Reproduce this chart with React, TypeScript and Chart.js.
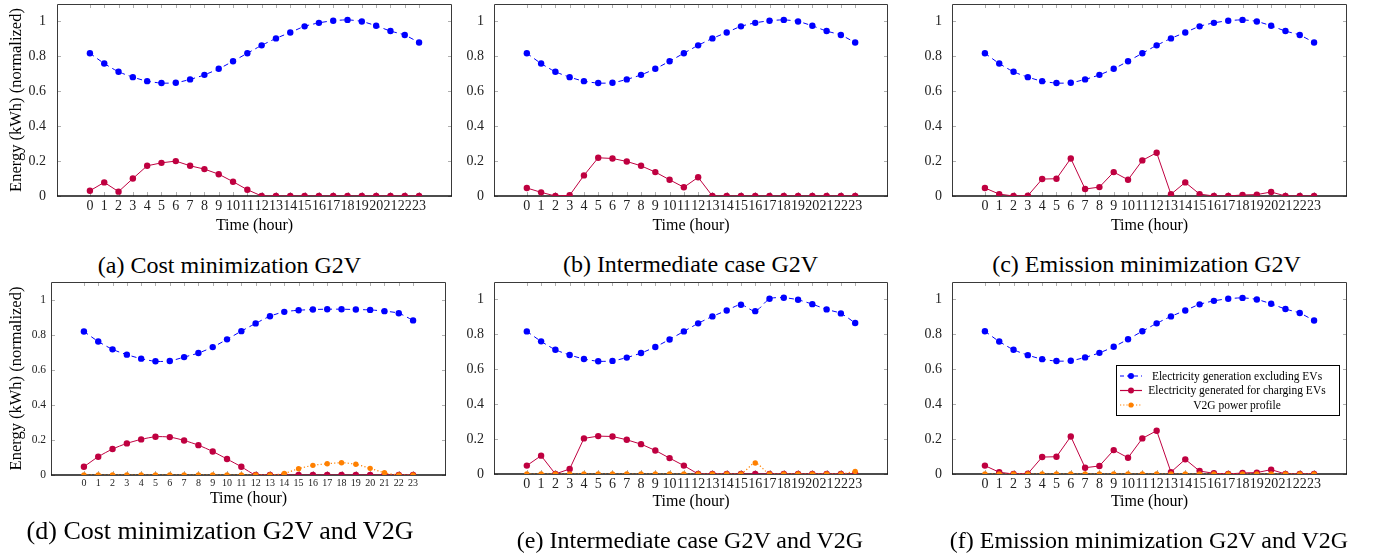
import React, { useEffect, useRef } from 'react';
import { Chart, registerables } from 'chart.js';

Chart.register(...registerables);

// ---------------- DATA ----------------
const hours = [0, 1, 2, 3, 4, 5, 6, 7, 8, 9, 10, 11, 12, 13, 14, 15, 16, 17, 18, 19, 20, 21, 22, 23];
const hourLabels = hours.map((h) => String(h));

const yTicks = [0, 0.2, 0.4, 0.6, 0.8, 1];
const yTickLabels = ['0', '0.2', '0.4', '0.6', '0.8', '1'];

// Electricity generation excluding EVs (normalized)
const genBase = [0.818, 0.759, 0.712, 0.681, 0.658, 0.647, 0.649, 0.668, 0.694, 0.729, 0.772, 0.818,
  0.863, 0.903, 0.937, 0.972, 0.992, 1.004, 1.009, 1.0, 0.975, 0.945, 0.922, 0.879];
const genCostV2G = [0.818, 0.761, 0.716, 0.686, 0.663, 0.648, 0.65, 0.672, 0.695, 0.729, 0.773, 0.82,
  0.864, 0.905, 0.93, 0.939, 0.943, 0.945, 0.945, 0.943, 0.941, 0.934, 0.922, 0.881];
const genInterV2G = [0.817, 0.76, 0.712, 0.682, 0.659, 0.646, 0.648, 0.667, 0.693, 0.728, 0.771, 0.817,
  0.863, 0.903, 0.937, 0.97, 0.933, 1.004, 1.01, 0.998, 0.973, 0.943, 0.92, 0.865];

// Electricity generated for charging EVs
const evCostG2V = [0.03, 0.078, 0.025, 0.1, 0.173, 0.19, 0.2, 0.173, 0.154, 0.125, 0.082, 0.036,
  0, 0, 0, 0, 0, 0, 0, 0, 0, 0, 0, 0];
const evInterG2V = [0.046, 0.021, 0, 0.004, 0.118, 0.219, 0.215, 0.198, 0.173, 0.137, 0.093, 0.05,
  0.107, 0, 0, 0, 0, 0, 0, 0, 0, 0, 0, 0];
const evEmisG2V = [0.046, 0.011, 0, 0.002, 0.097, 0.099, 0.215, 0.04, 0.051, 0.137, 0.093, 0.204,
  0.248, 0.01, 0.078, 0.011, 0, 0, 0.006, 0.008, 0.023, 0, 0, 0];
const evCostV2G = [0.047, 0.104, 0.148, 0.18, 0.203, 0.218, 0.216, 0.197, 0.17, 0.134, 0.091, 0.047,
  0, 0, 0, 0, 0, 0, 0, 0, 0, 0, 0, 0];
const evInterV2G = [0.048, 0.105, 0, 0.029, 0.204, 0.217, 0.215, 0.196, 0.171, 0.135, 0.091, 0.048,
  0, 0, 0, 0, 0, 0, 0, 0, 0, 0, 0, 0];
const evEmisV2G = [0.048, 0.01, 0, 0.002, 0.097, 0.099, 0.215, 0.036, 0.046, 0.137, 0.093, 0.204,
  0.248, 0.011, 0.084, 0.017, 0.004, 0, 0.006, 0.008, 0.025, 0, 0, 0];

// V2G power profile
const v2gCost = [0, 0, 0, 0, 0, 0, 0, 0, 0, 0, 0, 0, 0, 0, 0.009, 0.036, 0.055, 0.064, 0.07, 0.061, 0.038, 0.013, 0, 0];
const v2gInter = [0, 0, 0, 0, 0, 0, 0, 0, 0, 0, 0, 0, 0, 0, 0, 0, 0.063, 0, 0, 0, 0, 0, 0, 0.015];
const v2gEmis = [0, 0, 0, 0, 0, 0, 0, 0, 0, 0, 0, 0, 0, 0, 0, 0, 0, 0, 0, 0, 0, 0, 0, 0];

const seriesNames = [
  'Electricity generation excluding EVs',
  'Electricity generated for charging EVs',
  'V2G power profile',
];
const captions = [
  '(a) Cost minimization G2V',
  '(b) Intermediate case G2V',
  '(c) Emission minimization G2V',
  '(d) Cost minimization G2V and V2G',
  '(e) Intermediate case G2V and V2G',
  '(f) Emission minimization G2V and V2G',
];
const xTitle = 'Time (hour)';
const yTitle = 'Energy (kWh) (normalized)';

// ---------------- STYLE ----------------
const SERIF = '"Liberation Serif", "Times New Roman", serif';
const BLUE = '#0000ff';
const RED = '#bf0040';
const ORANGE = '#ff8000';

type PanelCfg = {
  gen: number[];
  ev: number[];
  v2g: number[] | null;
  left: number;
  top: number;
  width: number;
  height: number;
  padTop: number;
  padRight: number;
  yWidth: number;
  xHeight: number;
  showYTitle: boolean;
  xTickSize: number;
  yTickSize: number;
  yTickPad: number;
  xTitlePad: number;
  legend: boolean;
  caption: string;
  capX: number;
  capY: number;
  capSize: number;
};

const panels: PanelCfg[] = [
  { gen: genBase, ev: evCostG2V, v2g: null, left: 0, top: 0, width: 460, height: 240, padTop: 3, padRight: 8, yWidth: 57, xHeight: 44, showYTitle: true, xTickSize: 14, yTickSize: 14, yTickPad: 11, xTitlePad: 5, legend: false, caption: captions[0], capX: 229.5, capY: 265, capSize: 24 },
  { gen: genBase, ev: evInterG2V, v2g: null, left: 460, top: 0, width: 460, height: 240, padTop: 3, padRight: 32, yWidth: 34, xHeight: 44, showYTitle: false, xTickSize: 14, yTickSize: 14, yTickPad: 10, xTitlePad: 5, legend: false, caption: captions[1], capX: 690.5, capY: 264, capSize: 24 },
  { gen: genBase, ev: evEmisG2V, v2g: null, left: 920, top: 0, width: 459, height: 240, padTop: 3, padRight: 32, yWidth: 32, xHeight: 44, showYTitle: false, xTickSize: 14, yTickSize: 14, yTickPad: 10, xTitlePad: 5, legend: false, caption: captions[2], capX: 1146.5, capY: 264, capSize: 24 },
  { gen: genCostV2G, ev: evCostV2G, v2g: v2gCost, left: 0, top: 278, width: 460, height: 241, padTop: 3, padRight: 14, yWidth: 51, xHeight: 44, showYTitle: true, xTickSize: 10, yTickSize: 11.5, yTickPad: 5, xTitlePad: 11, legend: false, caption: captions[3], capX: 220, capY: 531, capSize: 26 },
  { gen: genInterV2G, ev: evInterV2G, v2g: v2gInter, left: 460, top: 278, width: 460, height: 240, padTop: 3, padRight: 32, yWidth: 34, xHeight: 44, showYTitle: false, xTickSize: 14, yTickSize: 14, yTickPad: 10, xTitlePad: 7, legend: false, caption: captions[4], capX: 690, capY: 540, capSize: 24 },
  { gen: genBase, ev: evEmisV2G, v2g: v2gEmis, left: 920, top: 278, width: 459, height: 240, padTop: 3, padRight: 32, yWidth: 32, xHeight: 44, showYTitle: false, xTickSize: 14, yTickSize: 14, yTickPad: 10, xTitlePad: 7, legend: true, caption: captions[5], capX: 1149, capY: 540, capSize: 24 },
];

// ---------------- PLUGINS ----------------
const framePlugin = {
  id: 'pgfFrame',
  beforeDatasetsDraw(chart: any) {
    const { ctx, chartArea, scales } = chart;
    const { left, right, top, bottom } = chartArea;
    const x = scales.x;
    const y = scales.y;
    const tl = 4;
    ctx.save();
    ctx.strokeStyle = '#9a9a9a';
    ctx.lineWidth = 0.8;
    ctx.beginPath();
    for (const v of hours) {
      const px = Math.round(x.getPixelForValue(v)) + 0.5;
      ctx.moveTo(px, bottom);
      ctx.lineTo(px, bottom - tl);
      ctx.moveTo(px, top);
      ctx.lineTo(px, top + tl);
    }
    for (const v of yTicks) {
      const py = Math.round(y.getPixelForValue(v)) + 0.5;
      ctx.moveTo(left, py);
      ctx.lineTo(left + tl, py);
      ctx.moveTo(right, py);
      ctx.lineTo(right - tl, py);
    }
    ctx.stroke();
    ctx.strokeStyle = '#3a3a3a';
    ctx.lineWidth = 1;
    ctx.beginPath();
    ctx.moveTo(left + 0.5, bottom);
    ctx.lineTo(left + 0.5, top + 0.5);
    ctx.lineTo(right - 0.5, top + 0.5);
    ctx.lineTo(right - 0.5, bottom);
    ctx.stroke();
    ctx.strokeStyle = '#111';
    ctx.lineWidth = 1.3;
    ctx.beginPath();
    ctx.moveTo(left, bottom);
    ctx.lineTo(right, bottom);
    ctx.stroke();
    ctx.restore();
  },
};

const legendPlugin = {
  id: 'pgfLegend',
  afterDraw(chart: any, _args: any, opts: any) {
    if (!opts || !opts.show) return;
    const { ctx, chartArea } = chart;
    const bx = chartArea.left + 164;
    const by = chartArea.top + 83;
    const bw = 223;
    const bh = 50;
    ctx.save();
    ctx.fillStyle = '#fff';
    ctx.fillRect(bx, by, bw, bh);
    ctx.strokeStyle = '#000';
    ctx.lineWidth = 1;
    ctx.strokeRect(bx + 0.5, by + 0.5, bw, bh);
    const rows = [
      { c: BLUE, dash: [4, 3], r: 3 },
      { c: RED, dash: [], r: 3 },
      { c: ORANGE, dash: [1.2, 2], r: 2.6 },
    ];
    const rowY = [by + 11, by + 25.5, by + 40];
    const textX = bx + 121;
    ctx.font = `11.5px ${SERIF}`;
    ctx.textAlign = 'center';
    ctx.textBaseline = 'middle';
    rows.forEach((row, i) => {
      const yy = rowY[i];
      ctx.strokeStyle = row.c;
      ctx.lineWidth = 1.2;
      ctx.setLineDash(row.dash);
      ctx.beginPath();
      ctx.moveTo(bx + 4, yy);
      ctx.lineTo(bx + 26, yy);
      ctx.stroke();
      ctx.setLineDash([]);
      ctx.fillStyle = row.c;
      ctx.beginPath();
      ctx.arc(bx + 15, yy, row.r, 0, Math.PI * 2);
      ctx.fill();
      ctx.fillStyle = '#000';
      ctx.fillText(seriesNames[i], textX, yy + 0.5);
    });
    ctx.restore();
  },
};

// ---------------- COMPONENTS ----------------
function Panel({ p }: { p: PanelCfg }) {
  const ref = useRef<HTMLCanvasElement | null>(null);
  useEffect(() => {
    if (!ref.current) return;
    const datasets: any[] = [];
    if (p.v2g) {
      datasets.push({
        label: seriesNames[2],
        data: hours.map((h, i) => ({ x: h, y: p.v2g![i] })),
        borderColor: ORANGE,
        backgroundColor: ORANGE,
        borderDash: [1.2, 2.2],
        borderWidth: 1.2,
        pointRadius: 2.7,
        pointBorderWidth: 0,
        tension: 0.25,
        order: 0,
      });
    }
    datasets.push({
      label: seriesNames[1],
      data: hours.map((h, i) => ({ x: h, y: p.ev[i] })),
      borderColor: RED,
      backgroundColor: RED,
      borderWidth: 1,
      pointRadius: 3.2,
      pointBorderWidth: 0,
      tension: p.v2g === v2gCost ? 0.25 : 0,
      order: 1,
    });
    datasets.push({
      label: seriesNames[0],
      data: hours.map((h, i) => ({ x: h, y: p.gen[i] })),
      borderColor: BLUE,
      backgroundColor: BLUE,
      borderDash: [5, 4],
      borderWidth: 1,
      pointRadius: 3.2,
      pointBorderWidth: 0,
      tension: 0.25,
      order: 2,
    });

    const chart = new Chart(ref.current, {
      type: 'line',
      data: { datasets },
      options: {
        animation: false,
        responsive: false,
        maintainAspectRatio: false,
        layout: { padding: { left: 0, top: p.padTop, right: p.padRight, bottom: 0 } },
        plugins: {
          legend: { display: false },
          tooltip: { enabled: false },
          pgfLegend: { show: p.legend },
        } as any,
        scales: {
          x: {
            type: 'linear',
            min: -2.3,
            max: 25.3,
            afterBuildTicks: (s: any) => {
              s.ticks = hours.map((v) => ({ value: v }));
            },
            afterFit: (s: any) => {
              s.height = p.xHeight;
              s.paddingLeft = 0;
              s.paddingRight = 0;
            },
            grid: { display: false, drawTicks: false },
            border: { display: false },
            ticks: {
              autoSkip: false,
              maxRotation: 0,
              minRotation: 0,
              padding: 2,
              color: '#222',
              font: { family: SERIF, size: p.xTickSize },
              callback: (_v: any, i: number) => hourLabels[i],
            },
            title: {
              display: true,
              text: xTitle,
              color: '#000',
              font: { family: SERIF, size: 16 },
              padding: { top: 0, bottom: p.xTitlePad },
            },
          },
          y: {
            type: 'linear',
            min: 0,
            max: 1.1,
            afterBuildTicks: (s: any) => {
              s.ticks = yTicks.map((v) => ({ value: v }));
            },
            afterFit: (s: any) => {
              s.width = p.yWidth;
              s.paddingTop = 0;
              s.paddingBottom = 0;
            },
            grid: { display: false, drawTicks: false },
            border: { display: false },
            ticks: {
              padding: p.yTickPad,
              color: '#222',
              font: { family: SERIF, size: p.yTickSize },
              callback: (v: any) => {
                const k = yTicks.findIndex((t) => Math.abs(t - v) < 1e-9);
                return k >= 0 ? yTickLabels[k] : '';
              },
            },
            title: {
              display: p.showYTitle,
              text: yTitle,
              color: '#000',
              font: { family: SERIF, size: 16.5 },
              padding: { top: 7, bottom: 0 },
            },
          },
        },
      } as any,
      plugins: [framePlugin, legendPlugin],
    });
    return () => chart.destroy();
  }, [p]);

  return (
    <>
      <canvas
        ref={ref}
        width={p.width}
        height={p.height}
        style={{ position: 'absolute', left: p.left, top: p.top, width: p.width, height: p.height }}
      />
      <div
        style={{
          position: 'absolute',
          left: p.capX - 260,
          width: 520,
          top: p.capY - 15,
          height: 30,
          lineHeight: '30px',
          textAlign: 'center',
          whiteSpace: 'nowrap',
          fontFamily: SERIF,
          fontSize: p.capSize,
          color: '#000',
        }}
      >
        {p.caption}
      </div>
    </>
  );
}

export default function App() {
  return (
    <div
      style={{
        position: 'absolute',
        left: 0,
        top: 0,
        width: 1379,
        height: 559,
        background: '#fff',
        overflow: 'hidden',
      }}
    >
      {panels.map((p, i) => (
        <Panel key={i} p={p} />
      ))}
    </div>
  );
}
